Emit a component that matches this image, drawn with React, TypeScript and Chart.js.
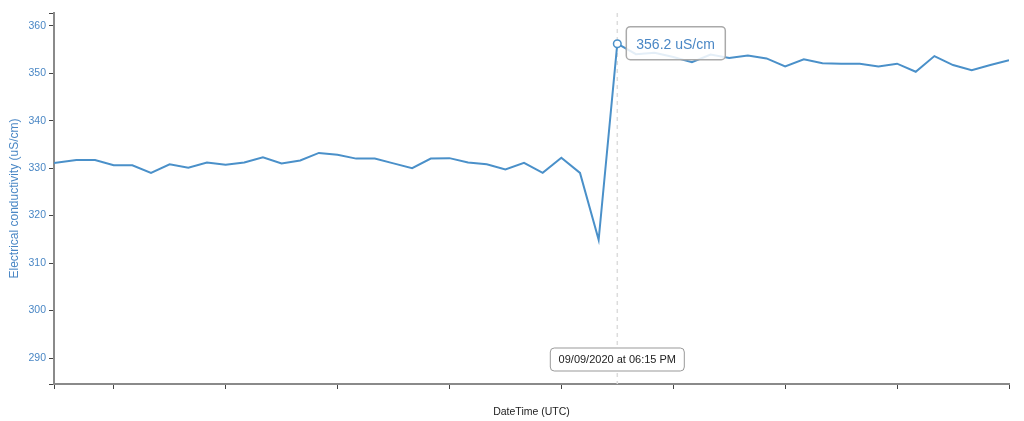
import React, { useEffect, useRef } from "react";
import { Chart, registerables } from "chart.js";

Chart.register(...registerables);

// ---- data ----
const dateLabel = "09/09/2020";
const times = [
  "15:44", "15:50", "15:55",
  "16:00", "16:05", "16:10", "16:15", "16:20", "16:25", "16:30", "16:35", "16:40", "16:45", "16:50", "16:55",
  "17:00", "17:05", "17:10", "17:15", "17:20", "17:25", "17:30", "17:35", "17:40", "17:45", "17:50", "17:55",
  "18:00", "18:05", "18:10", "18:15", "18:20", "18:25", "18:30", "18:35", "18:40", "18:45", "18:50", "18:55",
  "19:00", "19:05", "19:10", "19:15", "19:20", "19:25", "19:30", "19:35", "19:40", "19:45", "19:50", "19:55",
  "20:00",
];
const conductivity = [
  331.1, 331.7, 331.7, 330.6, 330.6, 329.0, 330.8, 330.1, 331.2, 330.7,
  331.2, 332.3, 331.0, 331.6, 333.2, 332.8, 332.0, 332.0, 331.0, 330.0,
  332.0, 332.1, 331.2, 330.8, 329.7, 331.1, 329.0, 332.2, 329.0, 314.9,
  356.2, 354.0, 354.3, 353.4, 352.3, 353.9, 353.2, 353.7, 353.1, 351.4,
  352.9, 352.1, 352.0, 352.0, 351.4, 352.0, 350.3, 353.6, 351.7, 350.6,
  351.7, 352.7,
];
const xTickTimes = ["15:44", "16:00", "16:30", "17:00", "17:30", "18:00", "18:30", "19:00", "19:30", "20:00"];
const yTickLabels = [290, 300, 310, 320, 330, 340, 350, 360];
const yMin = 284.53;
const yMax = 362.67;
const hoverIndex = 30;
const unit = "uS/cm";
const yTitle = "Electrical conductivity (uS/cm)";
const xTitle = "DateTime (UTC)";

const LINE = "#4a90c9";
const LABEL = "#4a87c5";
const FONT = '"Liberation Sans", Arial, sans-serif';

const toMin = (t: string) => {
  const [h, m] = t.split(":").map(Number);
  return h * 60 + m;
};
const to12h = (t: string) => {
  const [h, m] = t.split(":").map(Number);
  const hh = h % 12 === 0 ? 12 : h % 12;
  return `${String(hh).padStart(2, "0")}:${String(m).padStart(2, "0")} ${h >= 12 ? "PM" : "AM"}`;
};

function roundRect(ctx: CanvasRenderingContext2D, x: number, y: number, w: number, h: number, r: number) {
  ctx.beginPath();
  ctx.moveTo(x + r, y);
  ctx.lineTo(x + w - r, y);
  ctx.arcTo(x + w, y, x + w, y + r, r);
  ctx.lineTo(x + w, y + h - r);
  ctx.arcTo(x + w, y + h, x + w - r, y + h, r);
  ctx.lineTo(x + r, y + h);
  ctx.arcTo(x, y + h, x, y + h - r, r);
  ctx.lineTo(x, y + r);
  ctx.arcTo(x, y, x + r, y, r);
  ctx.closePath();
}

const hoverPlugin = {
  id: "hoverMarker",
  beforeDatasetsDraw(chart: any) {
    const { ctx, chartArea } = chart;
    const px = chart.scales.x.getPixelForValue(toMin(times[hoverIndex]));
    ctx.save();
    ctx.strokeStyle = "#dcdcdc";
    ctx.lineWidth = 1.5;
    ctx.setLineDash([4, 4]);
    ctx.beginPath();
    ctx.moveTo(px, chartArea.top);
    ctx.lineTo(px, chartArea.bottom);
    ctx.stroke();
    ctx.restore();
  },
  afterDatasetsDraw(chart: any) {
    const { ctx, chartArea } = chart;
    const px = chart.scales.x.getPixelForValue(toMin(times[hoverIndex]));
    const py = chart.scales.y.getPixelForValue(conductivity[hoverIndex]);
    ctx.save();
    // hover point
    ctx.beginPath();
    ctx.arc(px, py, 3.8, 0, Math.PI * 2);
    ctx.fillStyle = "#ffffff";
    ctx.fill();
    ctx.lineWidth = 1.5;
    ctx.strokeStyle = LINE;
    ctx.stroke();

    // value tooltip
    const bx = px + 9;
    const by = py - 17;
    roundRect(ctx, bx, by, 99, 33, 4);
    ctx.fillStyle = "rgba(255,255,255,0.85)";
    ctx.fill();
    ctx.lineWidth = 1.5;
    ctx.strokeStyle = "#aaaaaa";
    ctx.stroke();
    ctx.font = `14px ${FONT}`;
    ctx.fillStyle = LABEL;
    ctx.textAlign = "left";
    ctx.textBaseline = "middle";
    ctx.fillText(`${conductivity[hoverIndex].toFixed(1)} ${unit}`, bx + 10, py + 1);

    // date tooltip
    const dw = 134;
    const dh = 23;
    const dx = px - dw / 2;
    const dy = chartArea.bottom - 36;
    roundRect(ctx, dx, dy, dw, dh, 4);
    ctx.fillStyle = "#ffffff";
    ctx.fill();
    ctx.lineWidth = 1;
    ctx.strokeStyle = "#999999";
    ctx.stroke();
    ctx.font = `11px ${FONT}`;
    ctx.fillStyle = "#222222";
    ctx.textAlign = "center";
    ctx.fillText(`${dateLabel} at ${to12h(times[hoverIndex])}`, px, dy + dh / 2 + 0.5);
    ctx.restore();
  },
};

export default function App() {
  const ref = useRef<HTMLCanvasElement>(null);
  useEffect(() => {
    document.body.style.margin = "0";
    Chart.defaults.font.family = FONT;
    const chart = new Chart(ref.current!, {
      type: "line",
      data: {
        datasets: [
          {
            data: conductivity.map((v, i) => ({ x: toMin(times[i]), y: v })),
            borderColor: LINE,
            borderWidth: 2,
            pointRadius: 0,
            pointHoverRadius: 0,
            tension: 0,
            fill: false,
          },
        ],
      },
      options: {
        animation: false,
        responsive: false,
        devicePixelRatio: 1,
        events: [],
        layout: { padding: { top: 13, right: 15, left: 0, bottom: 0 } },
        plugins: { legend: { display: false }, tooltip: { enabled: false } },
        scales: {
          x: {
            type: "linear",
            min: toMin(times[0]),
            max: toMin(times[times.length - 1]),
            afterBuildTicks: (s: any) => {
              s.ticks = xTickTimes.map((t) => ({ value: toMin(t) }));
            },
            afterFit: (s: any) => {
              s.height = 37;
            },
            ticks: { display: false },
            grid: {
              drawOnChartArea: false,
              drawTicks: true,
              tickLength: 5,
              tickColor: "#444",
              tickWidth: 1,
            },
            border: { display: true, color: "#8a8a8a", width: 2 },
            title: {
              display: true,
              text: xTitle,
              color: "#222",
              font: { size: 10.5, family: FONT },
              padding: { top: 0, bottom: 2.5 },
            },
          },
          y: {
            type: "linear",
            min: yMin,
            max: yMax,
            afterBuildTicks: (s: any) => {
              s.ticks = [yMin, ...yTickLabels, yMax].map((v) => ({ value: v }));
            },
            afterFit: (s: any) => {
              s.width = 54;
            },
            ticks: {
              color: LABEL,
              font: { size: 10.5, family: FONT },
              padding: 3,
              callback: (v: any) => (yTickLabels.includes(Number(v)) ? String(v) : ""),
            },
            grid: {
              drawOnChartArea: false,
              drawTicks: true,
              tickLength: 5,
              tickColor: "#444",
              tickWidth: 1,
            },
            border: { display: true, color: "#8a8a8a", width: 2 },
            title: {
              display: true,
              text: yTitle,
              color: LABEL,
              font: { size: 12, family: FONT },
              padding: { top: 7, bottom: 0 },
            },
          },
        },
      },
      plugins: [hoverPlugin],
    } as any);
    return () => chart.destroy();
  }, []);
  return (
    <div style={{ width: 1024, height: 421 }}>
      <canvas ref={ref} width={1024} height={421} style={{ display: "block" }} />
    </div>
  );
}
